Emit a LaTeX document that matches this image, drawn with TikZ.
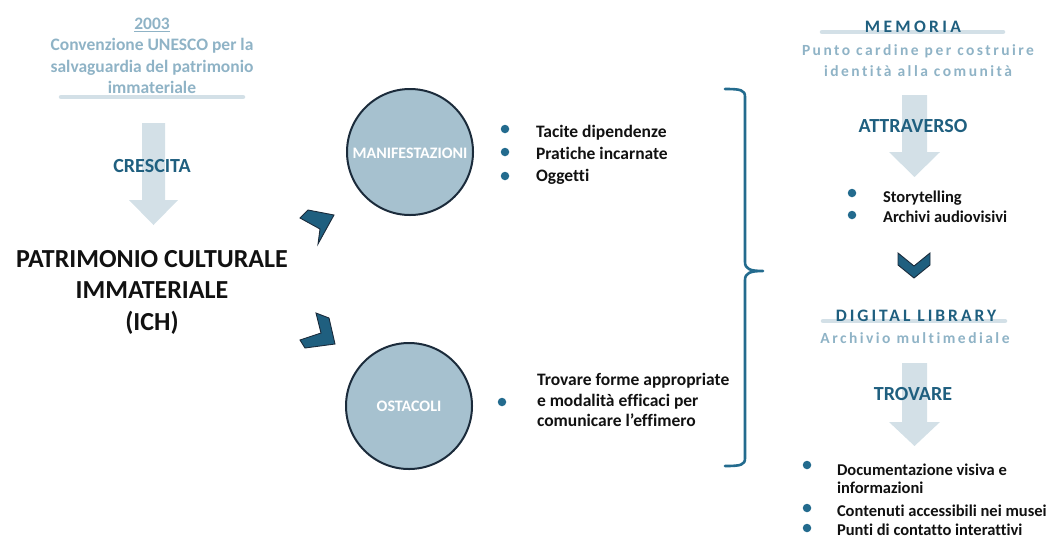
\documentclass[tikz,border=0pt]{standalone}
\usepackage{fontspec}
\setmainfont{Carlito}[Ligatures=NoCommon]
\definecolor{deepblue}{HTML}{1F5F7F}
\definecolor{dotblue}{HTML}{236B8E}
\definecolor{paleblue}{HTML}{8FB3C6}
\definecolor{mist}{HTML}{D3E0E7}
\definecolor{disc}{HTML}{A6C1CF}
\definecolor{navy}{HTML}{1B2B3B}
\definecolor{ink}{HTML}{111111}
\begin{document}
\begin{tikzpicture}[x=1pt,y=-1pt,
  every node/.style={inner sep=0pt,outer sep=0pt},
  fs/.style 2 args={font=\bfseries\fontsize{#1}{#2}\selectfont},
  pale/.style={text=paleblue,fs={17.5}{21.3},align=center},
  head/.style={text=deepblue,fs={20}{24}},
  spaced/.style 2 args={font=\bfseries\fontsize{#1}{21}\selectfont\addfontfeature{LetterSpace=#2}},
  item/.style={text=ink,fs={17.5}{21},align=left},
  dot/.style={circle,fill=dotblue,minimum size=8.5pt},
  disc/.style={circle,draw=navy,line width=2pt,fill=disc,minimum size=126pt},
  bar/.style={mist,line width=4.5pt,line cap=round},
  block/.style={fill=mist},
  chevron/.style={fill=deepblue,draw=navy,line width=0.9pt,line join=miter},
  brace/.style={dotblue,line width=2.6pt,line cap=round,line join=round}]
\useasboundingbox (0,0) rectangle (1064,539);

% ---------- left column ----------
\draw[bar] (61,97) coordinate (lbarA) -- (243,97) coordinate (lbarB);
% multi-line nodes: the base anchor sits on the last line
\node[pale,anchor=base] (conv) at (152,93.3)
  {\underline{2003}\\Convenzione UNESCO per la\\salvaguardia del patrimonio\\immateriale};

% block arrow "crescita"
\fill[block] (142,123) -- (165,123) -- (165,200) -- (178,200) -- (153.5,225)
  -- (129,200) -- (142,200) -- cycle;
\node[head,anchor=base] (crescita) at (152,172.7) {CRESCITA};

\node[text=ink,fs={26}{31.5},align=center,anchor=base] (ich) at (152,330.3)
  {PATRIMONIO CULTURALE\\IMMATERIALE\\(ICH)};

% chevrons towards the two circles
\filldraw[chevron] (308,210) -- (334,215) -- (318,244) -- (320,229) -- (300,218) -- cycle;
\filldraw[chevron] (316,313) -- (329,318) -- (335,344) -- (305,348) -- (300,340) -- (321,333) -- cycle;

% ---------- middle column ----------
\node[disc] (manif) at (410,152) {};
\node[text=white,fs={16}{16},anchor=base] (manifT) at (410,158.3) {MANIFESTAZIONI};
\node[disc] (ost) at (409,406) {};
\node[text=white,fs={16}{16},anchor=base] (ostT) at (409,411) {OSTACOLI};

\node[dot] (d1) at (505,129) {};
\node[dot] (d2) at (505,152) {};
\node[dot] (d3) at (505,176) {};
\node[item,anchor=base west] (i1) at (536,137.5) {Tacite dipendenze};
\node[item,anchor=base west] (i2) at (536,159.5) {Pratiche incarnate};
\node[item,anchor=base west] (i3) at (536,181) {Oggetti};

\node[dot] (d4) at (502,402) {};
\node[item,anchor=base west,fs={17.5}{20.5}] (i4) at (537,426.7)
  {Trovare forme appropriate\\e modalità efficaci per\\comunicare l’effimero};

% curly bracket
\coordinate (brT) at (725,89);
\coordinate (brM) at (763,271);
\coordinate (brB) at (725,466);
\draw[brace] (brT) .. controls (741,89) and (745,90) .. (745,97) -- (745,262)
  .. controls (745,269) and (750,271) .. (brM)
  .. controls (750,271) and (745,273) .. (745,280) -- (745,458)
  .. controls (745,465) and (741,466) .. (brB);

% ---------- right column ----------
\draw[bar] (822,32) coordinate (mbarA) -- (1003,32) coordinate (mbarB);
\node[spaced={17.5}{19},text=deepblue,anchor=base] (memoria) at (913,32) {MEMORIA};
\node[spaced={15.5}{16},text=paleblue,align=center,anchor=base] (punto) at (918,76)
  {Punto cardine per costruire\\identità alla comunità};

\fill[block] (902,95) -- (927,95) -- (927,152) -- (940,152) -- (914.5,177)
  -- (889,152) -- (902,152) -- cycle;
\node[head,anchor=base] (attr) at (913,132.7) {ATTRAVERSO};

\node[dot] (d5) at (852,193) {};
\node[dot] (d6) at (852,215) {};
\node[item,anchor=base west,fs={16.5}{20}] (i5) at (883,202.7) {Storytelling};
\node[item,anchor=base west,fs={16.5}{20}] (i6) at (883,222.7) {Archivi audiovisivi};

\filldraw[chevron] (898,253) -- (914,266) -- (930,253) -- (930,265) -- (914,278) -- (898,265) -- cycle;

\draw[bar] (823,321) coordinate (dbarA) -- (1005,321) coordinate (dbarB);
\node[spaced={17.5}{17},text=deepblue,anchor=base] (dl) at (916,321.7) {DIGITAL LIBRARY};
\node[spaced={15.5}{16},text=paleblue,anchor=base] (arch) at (915,343.3) {Archivio multimediale};

\fill[block] (902,363) -- (927,363) -- (927,422) -- (940,422) -- (914.5,446)
  -- (889,422) -- (902,422) -- cycle;
\node[head,anchor=base] (trov) at (913,400.7) {TROVARE};

\node[dot] (d7) at (807,465) {};
\node[dot] (d8) at (807,508) {};
\node[dot] (d9) at (807,528) {};
\node[item,anchor=base west,fs={16.5}{18}] (i7) at (837,493.3) {Documentazione visiva e\\informazioni};
\node[item,anchor=base west,fs={16.5}{20}] (i8) at (837,516.5) {Contenuti accessibili nei musei};
\node[item,anchor=base west,fs={16.5}{20}] (i9) at (837,535.5) {Punti di contatto interattivi};
\end{tikzpicture}
\end{document}
